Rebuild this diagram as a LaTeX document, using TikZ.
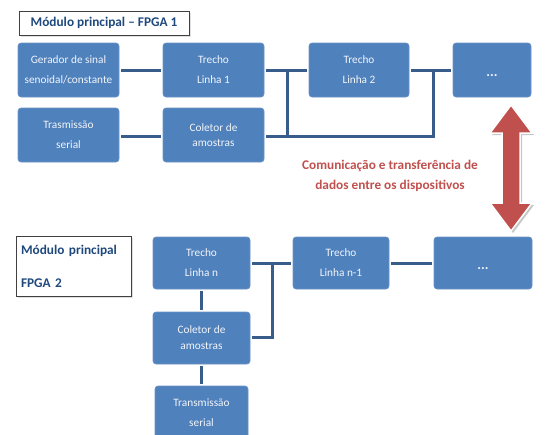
\documentclass[tikz,border=0pt]{standalone}
\usepackage{fontspec}
\setmainfont{Carlito}
\definecolor{boxblue}{HTML}{4F81BD}
\definecolor{boxedge}{HTML}{6C93C6}
\definecolor{connblue}{HTML}{385D8A}
\definecolor{titleblue}{HTML}{1F497D}
\definecolor{arrowred}{HTML}{C0504D}
\definecolor{boxtext}{HTML}{F2F5FA}
\begin{document}
\begin{tikzpicture}[x=1pt,y=-1pt,
  blk/.style={draw=boxedge, line width=0.6pt, fill=boxblue, rounded corners=3pt, text=boxtext,
    align=center, inner sep=0pt, font=\fontsize{11.3}{20}\selectfont},
  blkc/.style={blk, font=\fontsize{11.3}{14.5}\selectfont},
  dots/.style={blk},
  dotstext/.style={text=boxtext, font=\bfseries\fontsize{14}{14}\selectfont, inner sep=0pt, anchor=base},
  conn/.style={draw=connblue, line width=3pt},
  gap/.style={shorten <=2pt, shorten >=2pt},
  titlebox/.style={draw=black!75, line width=0.8pt, fill=white, text=titleblue, font=\bfseries\fontsize{13.3}{16}\selectfont, inner sep=0pt},
  redtext/.style={text=arrowred, font=\bfseries\fontsize{13.3}{20}\selectfont, align=center}
]
\useasboundingbox (0,0) rectangle (548,434);
\clip (0,0) rectangle (548,434);
% ---------- Top module ----------
\fill[black!12] (20.5,12.5) rectangle (190.5,36.5);
\node[titlebox, minimum width=170pt, minimum height=24pt] (title1) at (104,23) {Módulo principal -- FPGA 1};

\node[blk, minimum width=101pt, minimum height=54pt] (gen) at (68.5,70) {Gerador de sinal\\senoidal/constante};
\node[blk, minimum width=101pt, minimum height=54pt] (t1) at (213.5,70) {Trecho\\Linha 1};
\node[blk, minimum width=100pt, minimum height=54pt] (t2) at (359,70) {Trecho\\Linha 2};
\node[dots, minimum width=78pt, minimum height=54pt] (d1) at (492,70) {};
\node[dotstext] (d1t) at (492,76.5) {...};
\node[blk, minimum width=101pt, minimum height=54pt] (tx1) at (68.5,135) {Trasmissão\\serial};
\node[blkc, minimum width=101pt, minimum height=54pt] (col1) at (213.5,135) {Coletor de\\amostras};

\coordinate (j1) at (287,70);
\coordinate (j2) at (433,70);
\coordinate (j3) at (433,136);
\draw[conn, gap] (gen.east) -- (t1.west);
\draw[conn, gap] (tx1.east |- j3) -- (col1.west |- j3);
\draw[conn, gap] (t1.east) -- (t2.west);
\draw[conn, gap] (t2.east) -- (d1.west);
\draw[conn, shorten <=2pt] (col1.east |- j3) -- (j3) -- (j2);
\draw[conn] (j1) -- (j1 |- j3);

% ---------- Red double arrow ----------
\fill[black!22, shift={(2,2)}] (511,105) -- (532,133) -- (520,133) -- (520,203) -- (532,203) -- (511,231) -- (490,203) -- (502,203) -- (502,133) -- (490,133) -- cycle;
\filldraw[fill=arrowred, draw=white, line width=1.5pt, line join=miter] (511,105) -- (532,133) -- (520,133) -- (520,203) -- (532,203) -- (511,231) -- (490,203) -- (502,203) -- (502,133) -- (490,133) -- cycle;
\node[redtext] (lbl) at (390,176) {Comunicação e transferência de\\dados entre os dispositivos};

% ---------- Bottom module ----------
\fill[black!12] (17.5,237.5) rectangle (132.5,297.5);
\node[titlebox, minimum width=115pt, minimum height=60pt, align=left, text width=105pt] (title2) at (73.5,266) {Módulo principal\\[17pt]FPGA 2};

\node[blk, minimum width=97pt, minimum height=52pt] (tn) at (201.5,263) {Trecho\\Linha n};
\node[blk, minimum width=96pt, minimum height=52pt] (tn1) at (341,263) {Trecho\\Linha n-1};
\node[dots, minimum width=98pt, minimum height=52pt] (d2) at (483,263) {};
\node[dotstext] (d2t) at (483,269.5) {...};
\node[blk, minimum width=97pt, minimum height=52pt, font=\fontsize{11.3}{16}\selectfont] (col2) at (201.5,338) {Coletor de\\amostras};
\node[blk, minimum width=93pt, minimum height=54pt] (tx2) at (201.5,413) {Transmissão\\serial};

\coordinate (k1) at (272,263);
\coordinate (k2) at (272,337);
\draw[conn, gap] (tn.east) -- (tn1.west);
\draw[conn, gap] (tn1.east) -- (d2.west);
\draw[conn, shorten <=2pt] (col2.east |- k2) -- (k2) -- (k1);
\draw[conn, gap] (tn.south) -- (col2.north);
\draw[conn, gap] (col2.south) -- (tx2.north);
\end{tikzpicture}
\end{document}
